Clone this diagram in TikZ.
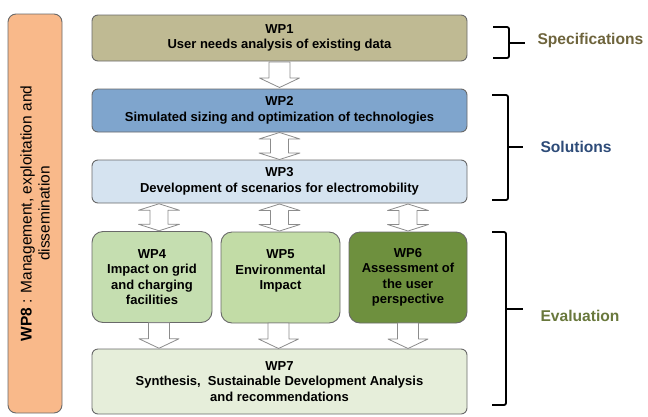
\documentclass[tikz,border=0pt]{standalone}
\usepackage{fontspec}
\setmainfont{Liberation Sans}
\usetikzlibrary{calc}

\definecolor{specfill}{RGB}{191,186,147}
\definecolor{solfill}{RGB}{127,165,205}
\definecolor{scenfill}{RGB}{213,227,240}
\definecolor{gridfill}{RGB}{197,222,176}
\definecolor{envfill}{RGB}{194,220,166}
\definecolor{userfill}{RGB}{110,144,62}
\definecolor{synthfill}{RGB}{230,238,218}
\definecolor{mgmtfill}{RGB}{249,185,138}
\definecolor{boxline}{RGB}{105,105,105}
\definecolor{specink}{RGB}{110,100,60}
\definecolor{solink}{RGB}{45,75,120}
\definecolor{evalink}{RGB}{105,120,60}

\tikzset{
  wpbox/.style={draw=boxline,line width=0.9pt,rounded corners=6pt,
    align=center,font=\bfseries\fontsize{13}{15.5}\selectfont,inner sep=2pt},
  wpsmall/.style={wpbox,rounded corners=11pt,minimum height=91pt},
  blockarrow/.style={draw=gray!90,fill=white,line width=0.8pt,line join=round},
  % hollow arrow pointing down
  downblock/.pic={
    \draw[blockarrow] (-10.5,-13) -- (10.5,-13) -- (10.5,3) -- (20,3) -- (0,12.5)
      -- (-20,3) -- (-10.5,3) -- cycle;
  },
  % hollow arrow pointing both ways
  twoblock/.pic={
    \draw[blockarrow] (-9,-7) -- (-20.5,-7) -- (0,-13.5) -- (20.5,-7) -- (9,-7)
      -- (9,7) -- (20.5,7) -- (0,13.5) -- (-20.5,7) -- (-9,7) -- cycle;
  },
  phase/.style={draw,line width=1.8pt,rounded corners=2pt},
  phaselabel/.style={anchor=west,font=\bfseries\fontsize{15.6}{18}\selectfont}
}

\begin{document}
\begin{tikzpicture}[x=1pt,y=-1pt]
  \useasboundingbox (0,0) rectangle (648,416);

  % work packages
  \node[wpbox,fill=specfill,minimum width=375pt,minimum height=46pt] (wp1) at (279.5,38)
    {WP1\\User needs analysis of existing data};
  \node[wpbox,fill=solfill,minimum width=375pt,minimum height=43pt] (wp2) at (279.5,110.5)
    {WP2\\Simulated sizing and optimization of technologies};
  \node[wpbox,fill=scenfill,minimum width=375pt,minimum height=43pt] (wp3) at (279.5,181.5)
    {WP3\\Development of scenarios for electromobility};
  \node[wpsmall,fill=gridfill,minimum width=120pt] (wp4) at (152,277)
    {WP4\\Impact on grid\\and charging\\facilities};
  \node[wpsmall,fill=envfill,minimum width=119pt] (wp5) at (280.5,277.5)
    {WP5\\Environmental\\Impact\\\mbox{}};
  \node[wpsmall,fill=userfill,minimum width=118pt] (wp6) at (408,277.5)
    {WP6\\Assessment of\\the user\\perspective};
  \node[wpbox,fill=synthfill,minimum width=375pt,minimum height=65pt] (wp7) at (279.5,381.5)
    {WP7\\Synthesis,\ \ Sustainable Development Analysis\\and recommendations};
  \node[wpbox,fill=mgmtfill,rounded corners=8pt,minimum width=399pt,minimum height=54pt,
    rotate=90,font=\fontsize{15.5}{18}\selectfont] (wp8) at (35,213.5)
    {\textbf{WP8} : Management, exploitation and\\dissemination};

  % links between packages
  \pic (a12) at ($(wp1.south)!0.5!(wp2.north)$) {downblock};
  \pic (a23) at ($(wp2.south)!0.5!(wp3.north)$) {twoblock};
  \pic (a34) at ($(wp3.south -| wp4.north)!0.5!(wp4.north)+(7,0)$) {twoblock};
  \pic (a35) at ($(wp3.south -| wp5.north)!0.5!(wp5.north)+(-1,0)$) {twoblock};
  \pic (a36) at ($(wp3.south -| wp6.north)!0.5!(wp6.north)$) {twoblock};
  \pic (a47) at ($(wp4.south)!0.5!(wp4.south |- wp7.north)+(7,0)$) {downblock};
  \pic (a57) at ($(wp5.south)!0.5!(wp5.south |- wp7.north)+(-2,0)$) {downblock};
  \pic (a67) at ($(wp6.south)!0.5!(wp6.south |- wp7.north)$) {downblock};

  % phases
  \draw[phase] (493,27) -- (509,27) -- (509,58) -- (493,58);
  \draw[phase] (509,43) -- (525,43);
  \node[phaselabel,text=specink] (spec) at (534,40) {Specifications};

  \draw[phase] (492,95) -- (508,95) -- (508,200) -- (492,200);
  \draw[phase] (508,147) -- (523,147);
  \node[phaselabel,text=solink] (sol) at (537,147) {Solutions};

  \draw[phase] (492,232) -- (506,232) -- (506,405) -- (492,405);
  \draw[phase] (506,309) -- (523,309);
  \node[phaselabel,text=evalink] (eval) at (537,316) {Evaluation};
\end{tikzpicture}
\end{document}
